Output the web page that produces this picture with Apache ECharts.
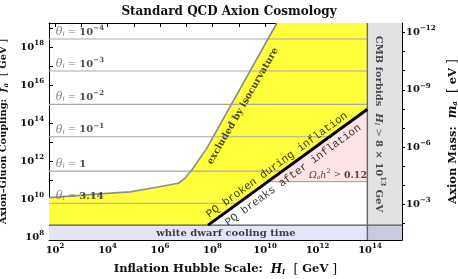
<!DOCTYPE html>
<html><head><meta charset="utf-8">
<script src="https://cdn.jsdelivr.net/npm/echarts@6/dist/echarts.min.js"></script>
<style>html,body{margin:0;padding:0;background:#fff}#c{width:458px;height:279px}</style>
</head><body><div id="c"></div>
<script>
// ---- data (all in log10 units) ----
const xRange = [1.77, 15.22];          // log10 H_I [GeV]
const yRange = [7.87, 19.26];          // log10 f_a [GeV]
const xTickLabels = [2, 4, 6, 8, 10, 12, 14];
const yTickLabels = [8, 10, 12, 14, 16, 18];
const massTickLabels = [-12, -9, -6, -3];
const massOffset = 6.756;              // log10 m_a[eV] = massOffset - log10 f_a
const isoCurve = [[1.77,10.09],[2.70,10.19],[3.97,10.32],[4.86,10.40],[5.87,10.64],[6.70,10.85],[6.95,11.11],[7.21,11.54],[7.52,12.16],[7.78,12.68],[10.455,19.26]];
const pqLine = [[7.83, 8.65], [13.9, 14.73]];
const cmbH = 13.9;
const whiteDwarfF = 8.65;
const relicF = 10.93;
const thetaNames = ['10^−4', '10^−3', '10^−2', '10^−1', '1', '3.14'];
const thetaF = [18.42, 16.74, 14.99, 13.29, 11.49, 9.80];

// ---- derived ----
const pqH = f => pqLine[0][0] + (f - pqLine[0][1]) * (pqLine[1][0] - pqLine[0][0]) / (pqLine[1][1] - pqLine[0][1]);
const relicH = pqH(relicF);
const ints = (a, b) => { const r = []; for (let i = a; i <= b; i++) r.push(i); return r; };

const F = "'DejaVu Serif', serif";
const M = "'Liberation Mono', monospace";
const tickRich = {
  b: {fontFamily: F, fontWeight: 'bold', fontSize: 10, color: '#111'},
  s: {fontFamily: F, fontWeight: 'bold', fontSize: 7, color: '#111', padding: [0, 0, 8, 0]}
};
function nameStyle(size) {
  return {
    fontFamily: F, fontWeight: 'bold', fontSize: size, color: '#111',
    rich: {
      m: {fontFamily: F, fontStyle: 'italic', fontWeight: 'bold', fontSize: size + 0.5, color: '#111'},
      ms: {fontFamily: F, fontStyle: 'italic', fontWeight: 'bold', fontSize: 7, color: '#111', padding: [5, 0, 0, 0]},
      br: {fontFamily: F, fontWeight: 'normal', fontSize: size + 1, color: '#111'}
    }
  };
}

function poly(points, color, z) {
  return {type: 'custom', silent: true, z: z, data: [[xRange[0], yRange[0]]], encode: {x: 0, y: 1},
    renderItem: (p, api) => ({type: 'polygon', shape: {points: points.map(q => api.coord(q))}, style: {fill: color}})};
}
function line(points, color, width, z) {
  return {type: 'line', silent: true, z: z, data: points, showSymbol: false, symbol: 'none',
    lineStyle: {color: color, width: width}, animation: false};
}
function text(pos, fmt, rot, style, extra) {
  return {type: 'scatter', silent: true, z: 10, symbolSize: 0.1, itemStyle: {color: 'transparent'},
    data: [pos], label: Object.assign({show: true, formatter: fmt, rotate: rot, position: 'inside'}, style, extra || {})};
}

const yellowPoly = isoCurve.concat([[cmbH, yRange[1]], [cmbH, pqLine[1][1]], pqLine[0], [xRange[0], whiteDwarfF]]);
const pinkPoly = [[relicH, relicF], pqLine[1], [cmbH, relicF]];
const lavPoly = [[xRange[0], yRange[0]], [cmbH, yRange[0]], [cmbH, whiteDwarfF], [xRange[0], whiteDwarfF]];
const darkPoly = [[cmbH, yRange[0]], [xRange[1], yRange[0]], [xRange[1], whiteDwarfF], [cmbH, whiteDwarfF]];
const cmbPoly = [[cmbH, whiteDwarfF], [xRange[1], whiteDwarfF], [xRange[1], yRange[1]], [cmbH, yRange[1]]];

const series = [
  poly(yellowPoly, '#ffff3c', 1),
  poly(pinkPoly, '#fde3e3', 1),
  poly(lavPoly, '#e5e5f9', 1),
  poly(darkPoly, '#cacadf', 1),
  poly(cmbPoly, '#e2e2e2', 1)
];
thetaF.forEach(f => series.push(line([[xRange[0], f], [Math.min(cmbH, pqH(f)), f]], '#a8a8a8', 1.2, 3)));
series.push(line([[relicH, relicF], [cmbH, relicF]], '#999', 1, 3));
series.push(line(isoCurve, '#8f8f8f', 1.7, 4));
series.push(line([[xRange[0], whiteDwarfF], [xRange[1], whiteDwarfF]], '#555', 1.2, 4));
series.push(line([[cmbH, yRange[0]], [cmbH, yRange[1]]], '#666', 1.4, 4));
series.push(line(pqLine, '#000', 3, 5));

const thRich = {
  t: {fontFamily: F, fontStyle: 'italic', fontSize: 11, color: '#666'},
  i: {fontFamily: F, fontStyle: 'italic', fontSize: 7, color: '#666', padding: [4, 0, 0, 0]},
  e: {fontFamily: F, fontSize: 10, color: '#555'},
  b: {fontFamily: F, fontWeight: 'bold', fontSize: 10, color: '#222'},
  s: {fontFamily: F, fontWeight: 'bold', fontSize: 7, color: '#222', padding: [0, 0, 8, 0]}
};
thetaNames.forEach((nm, k) => {
  const parts = nm.split('^');
  const val = parts.length > 1 ? `{b|${parts[0]}}{s|${parts[1]}}` : `{b|${parts[0]}}`;
  series.push(text([2.03, thetaF[k]], `{t|θ}{i|i}{e| = }${val}`, 0,
    {rich: thRich}, {position: [0, -7], align: 'left', verticalAlign: 'middle'}));
});

const boldS = sz => ({fontFamily: F, fontWeight: 'bold', fontSize: sz, color: '#111'});
const monoS = {fontFamily: M, fontSize: 11, color: '#000'};
series.push(text([9.16, 14.90], 'excluded by isocurvature', 60, boldS(9.5)));
series.push(text([10.46, 11.81], 'PQ broken during inflation', 36, monoS));
series.push(text([11.07, 11.28], 'PQ breaks after inflation', 36, monoS));
series.push(text([12.78, 11.28], '{o|Ω}{os|a}{o|h}{sq|2}{g| > }{n|0.12}', 0, {rich: {
  o: {fontFamily: F, fontStyle: 'italic', fontSize: 9.5, color: '#222'},
  os: {fontFamily: F, fontStyle: 'italic', fontSize: 6, color: '#222', padding: [4, 0, 0, 0]},
  sq: {fontFamily: F, fontSize: 6.5, color: '#222', padding: [0, 0, 7, 0]},
  g: {fontFamily: F, fontSize: 9, color: '#444'},
  n: {fontFamily: F, fontWeight: 'bold', fontSize: 9.5, color: '#222'}
}}));
series.push(text([8.51, 8.24], 'white dwarf cooling time', 0, boldS(10)));
series.push(text([14.34, 13.96], '{a|CMB forbids  }{h|H}{hs|I}{g| > }{a|8 × 10}{sq|13}{a| GeV}', -90, {rich: {
  a: {fontFamily: F, fontWeight: 'bold', fontSize: 10, color: '#222'},
  h: {fontFamily: F, fontStyle: 'italic', fontWeight: 'bold', fontSize: 10, color: '#222'},
  hs: {fontFamily: F, fontStyle: 'italic', fontSize: 6.5, color: '#222', padding: [4, 0, 0, 0]},
  g: {fontFamily: F, fontSize: 10, color: '#444'},
  sq: {fontFamily: F, fontWeight: 'bold', fontSize: 7, color: '#222', padding: [0, 0, 7, 0]}
}}));

const axisCommon = {type: 'value', splitLine: {show: false}, axisLine: {show: true, onZero: false, lineStyle: {color: '#000', width: 1}}};

const option = {
  animation: false,
  backgroundColor: '#fff',
  title: {text: 'Standard QCD Axion Cosmology', left: 'center', top: 1,
    textStyle: {fontFamily: F, fontWeight: 'bold', fontSize: 12, color: '#111'}},
  grid: {left: 49, right: 56, top: 23, bottom: 39, containLabel: false, outerBoundsMode: 'none'},
  xAxis: [
    Object.assign({}, axisCommon, {position: 'bottom', min: xRange[0], max: xRange[1],
      axisTick: {show: true, inside: true, length: 4, customValues: ints(2, 15), lineStyle: {color: '#000'}},
      axisLabel: {show: true, margin: 3, customValues: xTickLabels, formatter: v => `{b|10}{s|${v}}`, rich: tickRich},
      name: 'Inflation Hubble Scale:  {m|H}{ms|I}  {br|[} GeV {br|]}', nameLocation: 'middle', nameGap: 23, nameTextStyle: nameStyle(11.5)}),
    Object.assign({}, axisCommon, {position: 'top', min: xRange[0], max: xRange[1],
      axisTick: {show: true, inside: true, length: 4, customValues: ints(2, 15), lineStyle: {color: '#000'}},
      axisLabel: {show: false}})
  ],
  yAxis: [
    Object.assign({}, axisCommon, {position: 'left', min: yRange[0], max: yRange[1],
      axisTick: {show: true, inside: true, length: 4, customValues: ints(8, 19), lineStyle: {color: '#000'}},
      axisLabel: {show: true, margin: 5, customValues: yTickLabels, formatter: v => `{b|10}{s|${v}}`, rich: tickRich},
      name: 'Axion–Gluon Coupling:  {m|f}{ms|a}  {br|[} GeV {br|]}', nameLocation: 'middle', nameGap: 35, nameRotate: 90, nameTextStyle: nameStyle(9.8)}),
    Object.assign({}, axisCommon, {position: 'right', inverse: true,
      min: massOffset - yRange[1], max: massOffset - yRange[0],
      axisTick: {show: true, inside: false, length: 3, customValues: ints(-12, -2), lineStyle: {color: '#000'}},
      axisLabel: {show: true, margin: 4, customValues: massTickLabels, formatter: v => `{b|10}{s|−${-v}}`, rich: tickRich},
      name: 'Axion Mass:  {m|m}{ms|a}  {br|[} eV {br|]}', nameLocation: 'middle', nameGap: 41, nameRotate: 90, nameTextStyle: nameStyle(11.5)})
  ],
  series: series
};
const chart = echarts.init(document.getElementById('c'), null, {renderer: 'canvas'});
chart.setOption(option);
</script></body></html>
